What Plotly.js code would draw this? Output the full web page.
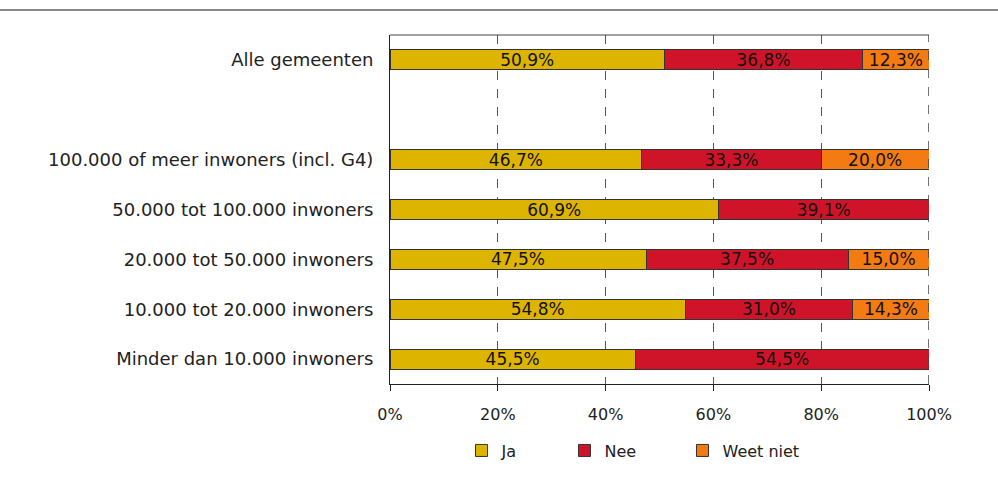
<!DOCTYPE html>
<html>
<head>
<meta charset="utf-8">
<script src="https://cdn.plot.ly/plotly-3.0.1.min.js"></script>
<style>html,body{margin:0;padding:0;background:#fff;}#chart{width:998px;height:493px;}</style>
</head>
<body>
<div id="chart"></div>
<script>
var categories = ["Alle gemeenten", " ", "100.000 of meer inwoners (incl. G4)", "50.000 tot 100.000 inwoners", "20.000 tot 50.000 inwoners", "10.000 tot 20.000 inwoners", "Minder dan 10.000 inwoners"];
var ja = [50.9, null, 46.7, 60.9, 47.5, 54.8, 45.5];
var nee = [36.8, null, 33.3, 39.1, 37.5, 31.0, 54.5];
var weetNiet = [12.3, null, 20.0, 0, 15.0, 14.3, 0];
var tickVals = [0, 20, 40, 60, 80, 100];
var tickLabels = ["0%", "20%", "40%", "60%", "80%", "100%"];

function labels(arr) {
  return arr.map(function (v) { return (v && v > 0) ? v.toFixed(1).replace('.', ',') + '%' : ''; });
}

var FONT = "DejaVu Sans, Verdana, sans-serif";
function mk(name, vals, color, leg) {
  return {
    type: 'bar', orientation: 'h', name: name, legend: leg,
    y: categories, x: vals,
    text: labels(vals), textposition: 'inside', insidetextanchor: 'middle',
    constraintext: 'none', textangle: 0,
    textfont: {family: FONT, size: 17, color: '#111'},
    marker: {color: color, line: {color: '#333', width: 1}},
    width: 0.4, hoverinfo: 'skip'
  };
}
var data = [mk('Ja', ja, '#DDB400', 'legend'), mk('Nee', nee, '#CF1329', 'legend2'), mk('Weet niet', weetNiet, '#F47A12', 'legend3')];

var L = 390, R = 69, T = 35, B = 109;
var W = 998 - L - R, H = 493 - T - B;
function leg(x) {
  return {orientation: 'h', x: x, xanchor: 'left', y: -0.142, yanchor: 'top', bgcolor: 'rgba(0,0,0,0)',
          font: {family: FONT, size: 16, color: '#222'}, itemwidth: 30};
}
var layout = {
  width: 998, height: 493,
  margin: {l: L, r: R, t: T, b: B, pad: 0},
  paper_bgcolor: '#fff', plot_bgcolor: '#fff',
  barmode: 'stack',
  font: {family: FONT, size: 16, color: '#222'},
  showlegend: true,
  legend: leg(0.1327), legend2: leg(0.3237), legend3: leg(0.5427),
  xaxis: {range: [0, 100], tickvals: tickVals, ticktext: tickLabels, ticks: 'outside', ticklen: 6,
          tickcolor: '#222', showgrid: true, gridcolor: '#555', griddash: 'dash', gridwidth: 1,
          showline: true, linecolor: '#222', linewidth: 1, zeroline: false, fixedrange: true,
          ticklabelstandoff: 10,
          tickfont: {family: FONT, size: 16, color: '#222'}},
  yaxis: {type: 'category', categoryorder: 'array', categoryarray: categories,
          range: [6.5, -0.5], showgrid: false, ticks: '', showline: true, linecolor: '#222',
          linewidth: 1, zeroline: false, fixedrange: true, ticklabelstandoff: 12,
          tickfont: {family: FONT, size: 18, color: '#222'}},
  shapes: [
    {type: 'line', xref: 'paper', yref: 'paper', x0: -L / W, x1: 1 + R / W, y0: 1 + 25 / H, y1: 1 + 25 / H,
     line: {color: '#111', width: 1}},
    {type: 'line', xref: 'paper', yref: 'paper', x0: 0, x1: 1, y0: 1, y1: 1,
     line: {color: '#444', width: 1}},
    {type: 'line', xref: 'x', yref: 'paper', x0: 100, x1: 100, y0: 0, y1: 1, layer: 'above',
     line: {color: '#444', width: 1.5, dash: 'dash'}}
  ]
};
Plotly.newPlot('chart', data, layout, {displayModeBar: false, staticPlot: true});
</script>
</body>
</html>
